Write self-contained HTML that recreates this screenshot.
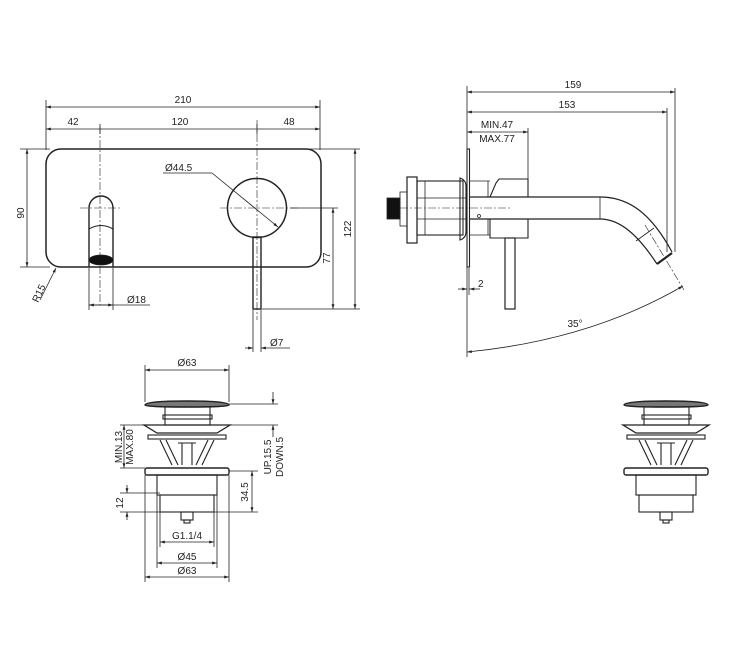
<!DOCTYPE html>
<html><head><meta charset="utf-8"><style>
html,body{margin:0;padding:0;background:#fff;}
svg{display:block;}
text{font-family:"Liberation Sans",Arial,sans-serif;font-size:10px;fill:#222;}
</style></head><body>
<svg width="750" height="651" viewBox="0 0 750 651" xmlns="http://www.w3.org/2000/svg">
<defs>
<marker id="a" viewBox="0 0 10 10" refX="10" refY="5" markerWidth="6" markerHeight="6" orient="auto-start-reverse"><path d="M0,2L10,5L0,8z" fill="#222"/></marker>
</defs>
<g stroke="#222" fill="none" stroke-width="0.8">
<line x1="46" y1="107" x2="320" y2="107" marker-start="url(#a)" marker-end="url(#a)"/>
<line x1="46" y1="129" x2="320" y2="129" marker-start="url(#a)" marker-end="url(#a)"/>
<line x1="46" y1="100" x2="46" y2="150"/><line x1="320" y1="100" x2="320" y2="150"/>
<line x1="100" y1="124" x2="100" y2="134"/><line x1="257" y1="124" x2="257" y2="134"/>
<rect x="46" y="149" width="275" height="118" rx="15" stroke-width="1.5"/>
<line x1="100" y1="126" x2="100" y2="305" stroke-dasharray="8,2,2,2" stroke-width="0.6"/>
<line x1="80" y1="208" x2="120" y2="208" stroke-dasharray="8,2,2,2" stroke-width="0.6"/>
<path d="M89,267 V208 A12,12 0 0 1 113,208 V267" stroke-width="1.4"/>
<path d="M89,229 Q101,222 113,229" stroke-width="1.1"/>
<ellipse cx="101" cy="260" rx="12" ry="5" fill="#111"/>
<line x1="89" y1="268" x2="89" y2="310"/><line x1="113" y1="268" x2="113" y2="310"/>
<line x1="89" y1="305" x2="150" y2="305" marker-start="url(#a)"/>
<line x1="89" y1="305" x2="113" y2="305" marker-end="url(#a)"/>
<circle cx="257" cy="208" r="29.5" stroke-width="1.5"/>
<line x1="257" y1="120" x2="257" y2="320" stroke-dasharray="8,2,2,2" stroke-width="0.6"/>
<line x1="220" y1="208" x2="300" y2="208" stroke-dasharray="8,2,2,2" stroke-width="0.6"/>
<line x1="163" y1="173" x2="212" y2="173"/>
<line x1="212" y1="173" x2="278" y2="227" marker-end="url(#a)"/>
<rect x="253" y="237" width="8" height="72" stroke-width="1.4"/>
<line x1="253" y1="310" x2="253" y2="352"/><line x1="261" y1="310" x2="261" y2="352"/>
<line x1="245" y1="348" x2="253" y2="348" marker-end="url(#a)"/>
<line x1="290" y1="348" x2="261" y2="348" marker-end="url(#a)"/>
<line x1="20" y1="149" x2="50" y2="149"/><line x1="20" y1="267" x2="50" y2="267"/>
<line x1="27" y1="149" x2="27" y2="267" marker-start="url(#a)" marker-end="url(#a)"/>
<line x1="290" y1="208" x2="338" y2="208"/>
<line x1="262" y1="309" x2="360" y2="309"/>
<line x1="310" y1="149" x2="360" y2="149"/>
<line x1="355" y1="149" x2="355" y2="309" marker-start="url(#a)" marker-end="url(#a)"/>
<line x1="333" y1="208" x2="333" y2="309" marker-start="url(#a)" marker-end="url(#a)"/>
<line x1="56" y1="268" x2="40" y2="300" marker-start="url(#a)"/>

<line x1="467" y1="92" x2="675" y2="92" marker-start="url(#a)" marker-end="url(#a)"/>
<line x1="467" y1="112" x2="667" y2="112" marker-start="url(#a)" marker-end="url(#a)"/>
<line x1="467" y1="132" x2="528" y2="132" marker-start="url(#a)" marker-end="url(#a)"/>
<line x1="467" y1="86" x2="467" y2="357"/>
<line x1="675" y1="88" x2="675" y2="252"/>
<line x1="667" y1="108" x2="667" y2="252"/>
<line x1="528" y1="128" x2="528" y2="180"/>
<rect x="467" y="149" width="2.5" height="118" stroke-width="1.1"/>
<path d="M460,178 Q466,180 466,186 V232 Q466,238 460,240 Z" stroke-width="1.1"/>
<rect x="417" y="181" width="46" height="54" stroke-width="1.1"/>
<line x1="417" y1="198" x2="466" y2="198"/><line x1="417" y1="219" x2="466" y2="219"/>
<line x1="425" y1="181" x2="425" y2="235"/>
<rect x="407" y="177" width="10" height="66" stroke-width="1.2"/>
<rect x="400" y="192" width="7" height="34"/>
<rect x="387" y="198" width="13" height="21" fill="#111"/>
<line x1="470" y1="181" x2="490" y2="181"/><line x1="470" y1="235" x2="490" y2="235"/>
<line x1="488" y1="181" x2="488" y2="197"/><line x1="488" y1="219" x2="488" y2="235"/>
<path d="M490,197 L496,183 L499,179 H528 V197" stroke-width="1.1"/>
<path d="M490,219 V238 H528 V219" stroke-width="1.1"/>
<line x1="469" y1="197" x2="600" y2="197" stroke-width="1.2"/>
<line x1="469" y1="219" x2="600" y2="219" stroke-width="1.2"/>
<line x1="600" y1="197" x2="600" y2="219"/>
<path d="M600,197 C630,197 652,215 672,252" stroke-width="1.2"/>
<path d="M600,219 C620,219 638,235 657,264" stroke-width="1.2"/>
<path d="M657,264 L672,253" stroke-width="2.2"/>
<line x1="636" y1="241" x2="654" y2="228"/>
<line x1="400" y1="208" x2="510" y2="208" stroke-dasharray="8,2,2,2" stroke-width="0.6"/>
<line x1="645" y1="225" x2="684" y2="290" stroke-dasharray="8,2,2,2" stroke-width="0.6"/>
<rect x="505" y="238" width="10" height="71" stroke-width="1.2"/>
<circle cx="479" cy="216" r="1.5"/>
<line x1="469" y1="268" x2="469" y2="295"/>
<line x1="458" y1="289" x2="467" y2="289" marker-end="url(#a)"/>
<line x1="480" y1="289" x2="469.5" y2="289" marker-end="url(#a)"/>
<path d="M467,352 Q590,340 683,286" marker-start="url(#a)" marker-end="url(#a)"/>
</g>
<g stroke="#222" fill="none" stroke-width="0.8">
<line x1="145" y1="370" x2="229" y2="370" marker-start="url(#a)" marker-end="url(#a)"/>
<line x1="145" y1="365" x2="145" y2="402"/><line x1="229" y1="365" x2="229" y2="402"/>
<line x1="229" y1="404" x2="278" y2="404"/>
<line x1="230" y1="425" x2="278" y2="425"/>
<line x1="273" y1="392" x2="273" y2="404" marker-end="url(#a)"/>
<line x1="273" y1="437" x2="273" y2="425" marker-end="url(#a)"/>
<line x1="120" y1="425" x2="145" y2="425"/><line x1="120" y1="468" x2="145" y2="468"/>
<line x1="124" y1="425" x2="124" y2="468" marker-start="url(#a)" marker-end="url(#a)"/>
<line x1="229" y1="471" x2="258" y2="471"/><line x1="214" y1="512" x2="258" y2="512"/>
<line x1="252" y1="471" x2="252" y2="512" marker-start="url(#a)" marker-end="url(#a)"/>
<line x1="120" y1="493" x2="160" y2="493"/><line x1="120" y1="512" x2="160" y2="512"/>
<line x1="127" y1="485" x2="127" y2="493" marker-end="url(#a)"/>
<line x1="127" y1="520" x2="127" y2="512" marker-end="url(#a)"/>
<line x1="160" y1="512" x2="160" y2="547"/><line x1="214" y1="512" x2="214" y2="547"/>
<line x1="160" y1="542" x2="214" y2="542" marker-start="url(#a)" marker-end="url(#a)"/>
<line x1="157" y1="495" x2="157" y2="568"/><line x1="217" y1="495" x2="217" y2="568"/>
<line x1="157" y1="563" x2="217" y2="563" marker-start="url(#a)" marker-end="url(#a)"/>
<line x1="145" y1="475" x2="145" y2="582"/><line x1="229" y1="475" x2="229" y2="582"/>
<line x1="145" y1="577" x2="229" y2="577" marker-start="url(#a)" marker-end="url(#a)"/>
</g>
<g id="w" stroke="#222" fill="none" stroke-width="1.1">
<path d="M145,405 Q145,401 187,401 Q229,401 229,405 Q229,407 187,407 Q145,407 145,405 Z" stroke-width="1.4" fill="#777"/>
<rect x="165" y="407" width="45" height="18"/>
<rect x="163" y="415" width="49" height="4"/>
<path d="M144,425 H230 L217,433 H157 Z" stroke-width="1.3"/>
<rect x="148" y="435" width="78" height="4"/>
<path d="M160,440 L172,465 M214,440 L202,465 M166,440 L178,465 M208,440 L196,465 M182,443 V465 M192,443 V465 M178,443 H196"/>
<rect x="145" y="468" width="84" height="7" rx="2" stroke-width="1.4"/>
<rect x="157" y="475" width="60" height="20"/>
<rect x="160" y="495" width="54" height="17"/>
<rect x="181" y="512" width="12" height="8"/>
<rect x="184" y="520" width="6" height="3"/>
</g>
<use href="#w" transform="translate(479,0)"/>
<g>
<text x="183" y="103" text-anchor="middle">210</text>
<text x="73" y="125" text-anchor="middle">42</text>
<text x="180" y="125" text-anchor="middle">120</text>
<text x="289" y="125" text-anchor="middle">48</text>
<text x="165" y="171">Ø44.5</text>
<text x="127" y="303">Ø18</text>
<text x="270" y="346">Ø7</text>
<text transform="translate(24,213) rotate(-90)" text-anchor="middle">90</text>
<text transform="translate(351,229) rotate(-90)" text-anchor="middle">122</text>
<text transform="translate(330,258) rotate(-90)" text-anchor="middle">77</text>
<text transform="translate(38,303) rotate(-65)">R15</text>
<text x="573" y="88" text-anchor="middle">159</text>
<text x="567" y="108" text-anchor="middle">153</text>
<text x="497" y="128" text-anchor="middle">MIN.47</text>
<text x="497" y="142" text-anchor="middle">MAX.77</text>
<text x="478" y="287">2</text>
<text x="575" y="327" text-anchor="middle">35°</text>
<text x="187" y="366" text-anchor="middle">Ø63</text>
<text transform="translate(122,447) rotate(-90)" text-anchor="middle">MIN.13</text>
<text transform="translate(133,447) rotate(-90)" text-anchor="middle">MAX.80</text>
<text transform="translate(271,457) rotate(-90)" text-anchor="middle">UP.15.5</text>
<text transform="translate(283,457) rotate(-90)" text-anchor="middle">DOWN.5</text>
<text transform="translate(248,492) rotate(-90)" text-anchor="middle">34.5</text>
<text transform="translate(123,503) rotate(-90)" text-anchor="middle">12</text>
<text x="187" y="539" text-anchor="middle">G1.1/4</text>
<text x="187" y="560" text-anchor="middle">Ø45</text>
<text x="187" y="574" text-anchor="middle">Ø63</text>
</g>
</svg>
</body></html>
